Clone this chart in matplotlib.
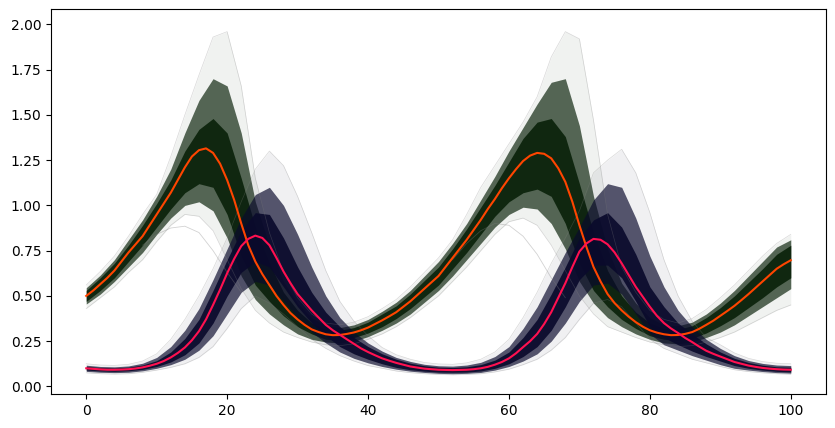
import numpy as np
import matplotlib.pyplot as plt

# time grids: mean curves every unit, bands every 2 units
t_mean = np.arange(0, 101, 1)
t = np.arange(0, 101, 2)

# posterior mean curves
prey_mean = [0.50, 0.53, 0.565, 0.60, 0.64, 0.69, 0.74, 0.785, 0.83, 0.89,
             0.95, 1.01, 1.07, 1.14, 1.21, 1.27, 1.305, 1.315, 1.29, 1.23,
             1.14, 1.03, 0.90, 0.78, 0.69, 0.62, 0.56, 0.50, 0.45, 0.405,
             0.37, 0.34, 0.315, 0.30, 0.288, 0.283, 0.284, 0.29, 0.298, 0.31,
             0.325, 0.345, 0.365, 0.387, 0.41, 0.44, 0.47, 0.505, 0.54, 0.575,
             0.61, 0.66, 0.71, 0.76, 0.81, 0.865, 0.92, 0.98, 1.035, 1.095,
             1.15, 1.20, 1.245, 1.275, 1.29, 1.285, 1.26, 1.205, 1.13, 1.02,
             0.89, 0.77, 0.66, 0.58, 0.51, 0.46, 0.42, 0.385, 0.355, 0.33,
             0.31, 0.297, 0.288, 0.283, 0.284, 0.29, 0.30, 0.318, 0.34, 0.363,
             0.39, 0.417, 0.445, 0.477, 0.51, 0.545, 0.58, 0.615, 0.65, 0.675, 0.697]
pred_mean = [0.100, 0.097, 0.094, 0.092, 0.092, 0.093, 0.095, 0.099, 0.105, 0.114,
             0.125, 0.14, 0.16, 0.185, 0.215, 0.255, 0.305, 0.37, 0.45, 0.535,
             0.625, 0.705, 0.775, 0.815, 0.833, 0.82, 0.78, 0.71, 0.635, 0.57,
             0.51, 0.465, 0.42, 0.38, 0.34, 0.31, 0.285, 0.26, 0.235, 0.21,
             0.19, 0.172, 0.155, 0.142, 0.13, 0.12, 0.11, 0.104, 0.098, 0.095,
             0.092, 0.091, 0.09, 0.091, 0.092, 0.095, 0.10, 0.108, 0.12, 0.135,
             0.155, 0.183, 0.217, 0.25, 0.29, 0.345, 0.41, 0.49, 0.57, 0.66,
             0.745, 0.79, 0.815, 0.81, 0.785, 0.74, 0.68, 0.615, 0.55, 0.495,
             0.44, 0.39, 0.35, 0.32, 0.295, 0.268, 0.245, 0.22, 0.197, 0.18,
             0.165, 0.15, 0.135, 0.125, 0.115, 0.108, 0.102, 0.098, 0.095, 0.093, 0.092]

# prey trace bundle: dense core, main spread, faint extremes
prey_core_lo = [0.47, 0.53, 0.60, 0.69, 0.78, 0.88, 0.98, 1.07, 1.12, 1.10,
                0.95, 0.72, 0.56, 0.47, 0.39, 0.33, 0.29, 0.26, 0.255, 0.27,
                0.295, 0.33, 0.375, 0.43, 0.495, 0.56, 0.65, 0.74, 0.84, 0.94,
                1.02, 1.07, 1.09, 1.05, 0.90, 0.68, 0.53, 0.44, 0.37, 0.32,
                0.28, 0.26, 0.255, 0.265, 0.295, 0.335, 0.38, 0.435, 0.49, 0.55, 0.60]
prey_core_hi = [0.53, 0.60, 0.68, 0.78, 0.89, 1.01, 1.14, 1.30, 1.42, 1.48,
                1.40, 1.15, 0.88, 0.68, 0.52, 0.42, 0.35, 0.315, 0.31, 0.325,
                0.355, 0.40, 0.445, 0.51, 0.585, 0.66, 0.76, 0.87, 0.99, 1.11,
                1.24, 1.37, 1.46, 1.48, 1.38, 1.12, 0.85, 0.64, 0.50, 0.41,
                0.35, 0.32, 0.315, 0.335, 0.38, 0.435, 0.50, 0.575, 0.65, 0.73, 0.78]
prey_mid_lo = [0.455, 0.51, 0.58, 0.66, 0.74, 0.84, 0.93, 1.00, 1.02, 0.97,
               0.82, 0.61, 0.48, 0.40, 0.34, 0.29, 0.26, 0.245, 0.24, 0.25,
               0.275, 0.31, 0.35, 0.40, 0.465, 0.53, 0.61, 0.70, 0.79, 0.88,
               0.95, 0.99, 0.98, 0.90, 0.76, 0.58, 0.46, 0.38, 0.33, 0.29,
               0.26, 0.24, 0.235, 0.245, 0.27, 0.30, 0.34, 0.39, 0.44, 0.49, 0.54]
prey_mid_hi = [0.545, 0.615, 0.70, 0.81, 0.92, 1.05, 1.20, 1.40, 1.58, 1.70,
               1.66, 1.40, 1.02, 0.78, 0.58, 0.46, 0.38, 0.335, 0.325, 0.34,
               0.37, 0.415, 0.465, 0.53, 0.61, 0.69, 0.79, 0.90, 1.03, 1.16,
               1.30, 1.43, 1.56, 1.68, 1.70, 1.44, 1.05, 0.76, 0.57, 0.46,
               0.38, 0.34, 0.335, 0.355, 0.40, 0.46, 0.53, 0.61, 0.69, 0.77, 0.81]
prey_out_lo = [0.43, 0.49, 0.55, 0.63, 0.70, 0.80, 0.89, 0.95, 0.94, 0.86,
               0.70, 0.54, 0.42, 0.35, 0.30, 0.27, 0.245, 0.23, 0.225, 0.235,
               0.26, 0.29, 0.33, 0.38, 0.44, 0.50, 0.58, 0.66, 0.75, 0.84,
               0.91, 0.93, 0.89, 0.78, 0.64, 0.50, 0.40, 0.33, 0.30, 0.27,
               0.245, 0.23, 0.22, 0.225, 0.245, 0.27, 0.30, 0.34, 0.38, 0.42, 0.45]
prey_out_hi = [0.56, 0.635, 0.72, 0.83, 0.95, 1.06, 1.27, 1.50, 1.72, 1.93,
               1.96, 1.66, 1.15, 0.85, 0.63, 0.49, 0.40, 0.35, 0.34, 0.355,
               0.385, 0.43, 0.48, 0.55, 0.63, 0.71, 0.81, 0.95, 1.10, 1.22,
               1.34, 1.46, 1.60, 1.82, 1.96, 1.92, 1.47, 0.95, 0.66, 0.52,
               0.42, 0.37, 0.35, 0.375, 0.425, 0.49, 0.56, 0.64, 0.72, 0.79, 0.84]

# the one low prey trace that sits apart below each peak
low_trace_t1 = [8, 10, 12, 14, 16, 18, 20, 22]
low_trace_v1 = [0.78, 0.84, 0.875, 0.885, 0.85, 0.75, 0.63, 0.52]
low_trace_t2 = [52, 54, 56, 58, 60, 62, 64, 66, 68]
low_trace_v2 = [0.70, 0.79, 0.86, 0.90, 0.89, 0.83, 0.73, 0.60, 0.49]

# predator trace bundle
pred_core_lo = [0.09, 0.085, 0.083, 0.086, 0.094, 0.11, 0.135, 0.175, 0.24, 0.35,
                0.50, 0.63, 0.69, 0.66, 0.55, 0.44, 0.35, 0.28, 0.22, 0.18,
                0.15, 0.125, 0.105, 0.092, 0.084, 0.079, 0.078, 0.079, 0.085, 0.10,
                0.125, 0.165, 0.22, 0.31, 0.44, 0.59, 0.67, 0.67, 0.60, 0.47,
                0.33, 0.27, 0.23, 0.195, 0.165, 0.14, 0.115, 0.10, 0.09, 0.083, 0.08]
pred_core_hi = [0.11, 0.104, 0.102, 0.106, 0.118, 0.142, 0.19, 0.265, 0.37, 0.53,
                0.70, 0.86, 0.96, 0.95, 0.82, 0.66, 0.52, 0.41, 0.33, 0.27,
                0.22, 0.18, 0.15, 0.128, 0.114, 0.106, 0.104, 0.108, 0.12, 0.145,
                0.19, 0.27, 0.37, 0.51, 0.66, 0.82, 0.92, 0.96, 0.88, 0.73,
                0.55, 0.44, 0.35, 0.29, 0.235, 0.19, 0.155, 0.132, 0.117, 0.108, 0.106]
pred_mid_lo = [0.083, 0.078, 0.076, 0.078, 0.086, 0.10, 0.12, 0.15, 0.20, 0.28,
               0.40, 0.52, 0.58, 0.56, 0.47, 0.38, 0.30, 0.24, 0.19, 0.155,
               0.13, 0.11, 0.095, 0.084, 0.077, 0.072, 0.07, 0.072, 0.077, 0.09,
               0.11, 0.14, 0.18, 0.25, 0.35, 0.47, 0.56, 0.57, 0.51, 0.40,
               0.29, 0.23, 0.20, 0.17, 0.145, 0.12, 0.10, 0.09, 0.082, 0.076, 0.073]
pred_mid_hi = [0.117, 0.11, 0.108, 0.113, 0.128, 0.16, 0.22, 0.31, 0.43, 0.59,
               0.76, 0.93, 1.06, 1.10, 1.00, 0.84, 0.66, 0.50, 0.38, 0.30,
               0.24, 0.195, 0.16, 0.138, 0.122, 0.114, 0.112, 0.118, 0.133, 0.165,
               0.22, 0.32, 0.44, 0.59, 0.74, 0.88, 1.03, 1.12, 1.10, 0.93,
               0.72, 0.55, 0.42, 0.33, 0.26, 0.21, 0.17, 0.143, 0.127, 0.118, 0.115]
pred_out_lo = [0.075, 0.07, 0.068, 0.07, 0.078, 0.09, 0.105, 0.125, 0.16, 0.22,
               0.32, 0.43, 0.50, 0.46, 0.40, 0.33, 0.26, 0.21, 0.17, 0.14,
               0.115, 0.10, 0.085, 0.076, 0.07, 0.066, 0.064, 0.066, 0.07, 0.08,
               0.095, 0.12, 0.15, 0.20, 0.27, 0.37, 0.46, 0.48, 0.44, 0.35,
               0.26, 0.21, 0.18, 0.15, 0.13, 0.11, 0.092, 0.082, 0.075, 0.07, 0.067]
pred_out_hi = [0.125, 0.118, 0.116, 0.122, 0.14, 0.18, 0.26, 0.37, 0.50, 0.65,
               0.82, 1.02, 1.20, 1.30, 1.22, 1.05, 0.85, 0.64, 0.47, 0.36,
               0.28, 0.215, 0.175, 0.15, 0.132, 0.124, 0.122, 0.13, 0.15, 0.19,
               0.26, 0.38, 0.52, 0.68, 0.82, 0.97, 1.18, 1.25, 1.31, 1.18,
               0.96, 0.70, 0.50, 0.36, 0.27, 0.23, 0.185, 0.155, 0.137, 0.128, 0.125]


def draw_bundle(ax, lo_out, hi_out, lo_mid, hi_mid, lo_core, hi_core, colour):
    # faint extremes, then the main spread, then the near opaque core
    ax.fill_between(t, lo_out, hi_out, color=colour, alpha=0.06, lw=0)
    ax.plot(t, lo_out, color='gray', alpha=0.3, lw=0.5)
    ax.plot(t, hi_out, color='gray', alpha=0.3, lw=0.5)
    ax.fill_between(t, lo_mid, hi_mid, color=colour, alpha=0.68, lw=0)
    ax.fill_between(t, lo_core, hi_core, color=colour, alpha=0.92, lw=0)


fig = plt.figure(figsize=(8.35, 4.28), dpi=100)
ax = fig.add_axes([51 / 835, 34 / 428, 775 / 835, 385 / 428])

draw_bundle(ax, prey_out_lo, prey_out_hi, prey_mid_lo, prey_mid_hi,
            prey_core_lo, prey_core_hi, '#0a220a')
ax.plot(low_trace_t1, low_trace_v1, color='gray', alpha=0.35, lw=0.6)
ax.plot(low_trace_t2, low_trace_v2, color='gray', alpha=0.35, lw=0.6)
draw_bundle(ax, pred_out_lo, pred_out_hi, pred_mid_lo, pred_mid_hi,
            pred_core_lo, pred_core_hi, '#0a0a2c')

ax.plot(t_mean, prey_mean, color='orangered', lw=1.5)
ax.plot(t_mean, pred_mean, color='#ff1050', lw=1.5)

ax.set_xlim(-5, 105)
ax.set_ylim(-0.042, 2.085)
ax.set_yticks(np.arange(0, 2.01, 0.25))
ax.set_yticklabels(['%.2f' % v for v in np.arange(0, 2.01, 0.25)])

fig.savefig('out.png', dpi=100)
